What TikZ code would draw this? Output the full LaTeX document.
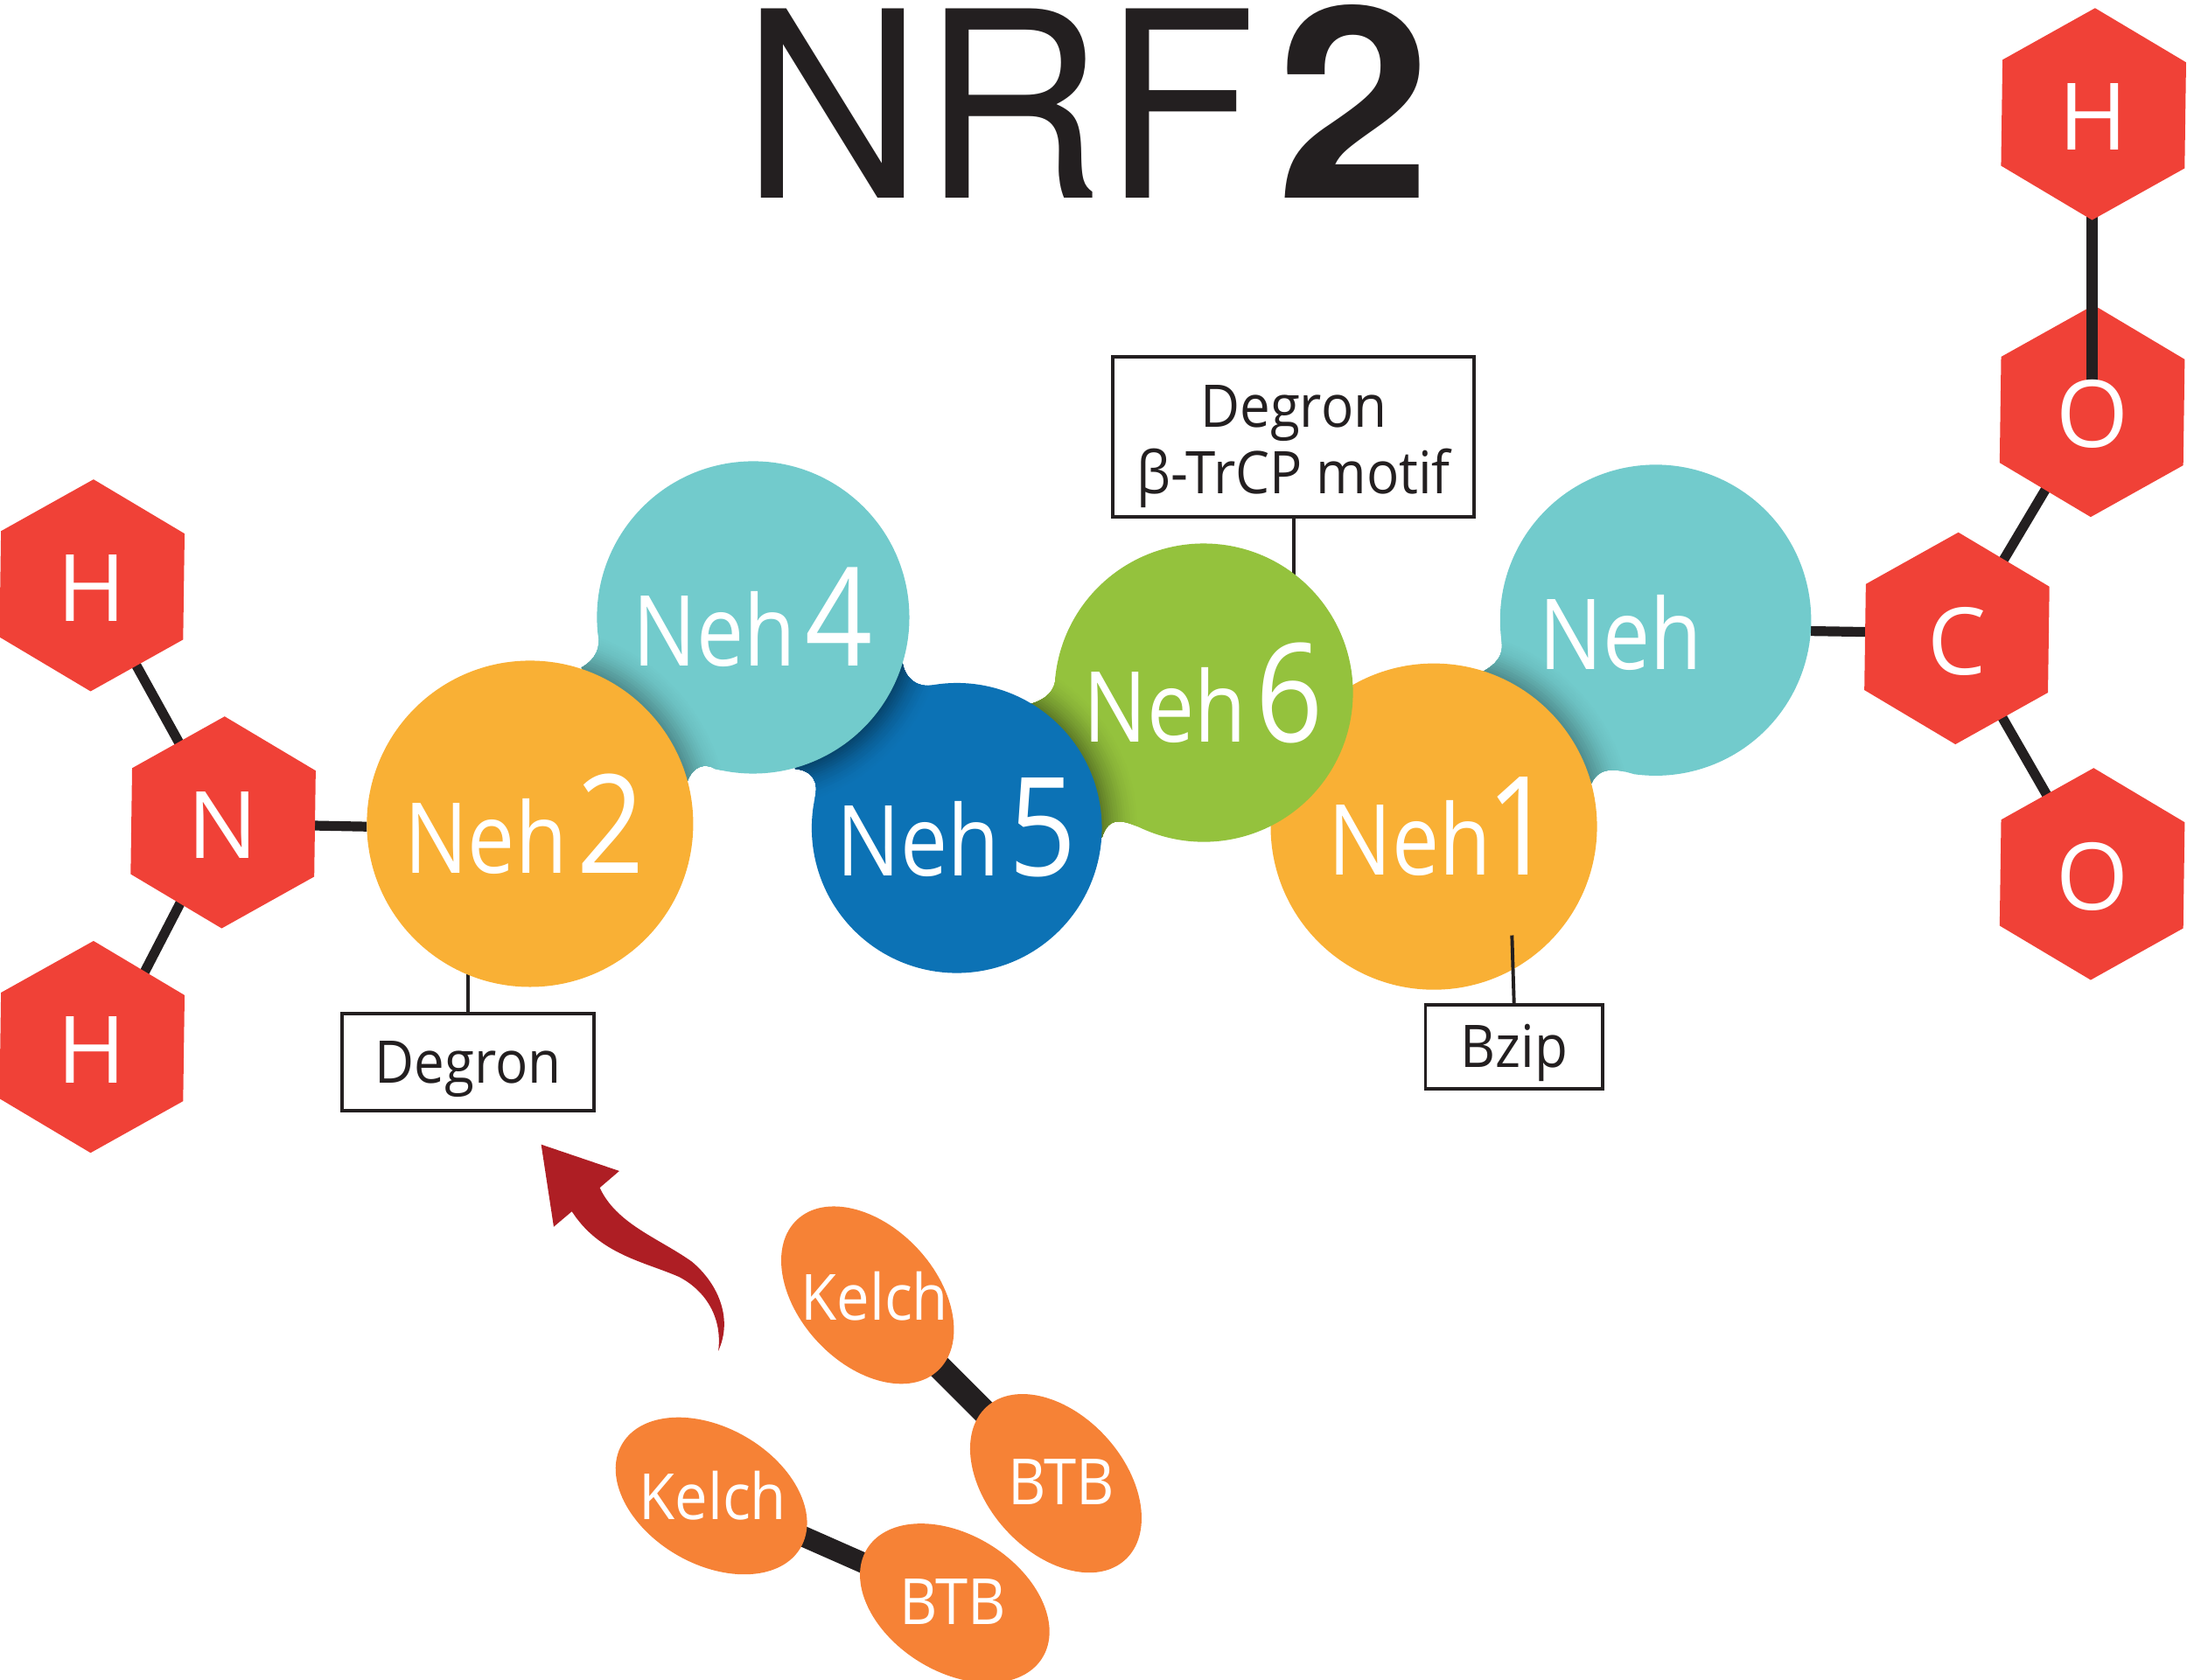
\documentclass[tikz,border=0pt]{standalone}
\usepackage{fontspec}
\usetikzlibrary{shapes.geometric, positioning, backgrounds}
\newfontfamily\nehfont[FakeStretch=0.86]{Open Sans}
\newfontfamily\notefont[FakeStretch=0.92]{Open Sans}
\newfontfamily\atomfont{Open Sans}
\newfontfamily\titlefont[FakeStretch=0.965]{TeX Gyre Heros}
\newfontfamily\titletwo[FakeStretch=1.04]{TeX Gyre Heros}
\definecolor{hexred}{RGB}{240,65,55}
\definecolor{nehteal}{RGB}{114,203,204}
\definecolor{nehorange}{RGB}{249,176,53}
\definecolor{nehblue}{RGB}{12,114,181}
\definecolor{nehgreen}{RGB}{148,194,61}
\definecolor{kelchorange}{RGB}{246,130,54}
\definecolor{arrowred}{RGB}{174,30,36}
\definecolor{inkdark}{RGB}{35,31,32}
\tikzset{
  hexa/.style={regular polygon, regular polygon sides=6, shape border rotate=29.2,
    minimum size=1.52cm, inner sep=0pt, outer sep=0pt, fill=hexred},
  atomtext/.style={text=white, inner sep=0pt, yshift=-0.02cm, font=\atomfont\fontsize{19}{19}\selectfont},
  nehnode/.style={circle, inner sep=0pt, outer sep=0pt, text=white,
    font=\nehfont\fontsize{20}{20}\selectfont},
  boxnote/.style={rectangle, draw=inkdark, fill=white, line width=0.7pt},
  boxtext/.style={align=center, inner sep=0pt, text=inkdark,
    font=\notefont\fontsize{12}{13.5}\selectfont},
  blob/.style={ellipse, fill=kelchorange, inner sep=0pt, outer sep=0pt,
    minimum width=1.48cm, minimum height=0.98cm},
  blobtext/.style={text=white, inner sep=0pt, font=\notefont\fontsize{13}{13}\selectfont},
  bond/.style={draw=inkdark, line width=2pt},
  leader/.style={draw=inkdark, line width=0.7pt},
}
\newcommand{\nehdigit}[1]{\kern2pt{\fontsize{28}{28}\selectfont #1}}
\newcommand{\rimshade}[5]{%
  \fill[#3] (0,0) rectangle (15.68,12.05);
  \foreach \i in {1,...,16}{
    \pgfmathtruncatemacro{\mixval}{100-(100-#5)*(\i/16)^1.6}
    \fill[#3!\mixval!black] #1 circle ({#2+#4*(1-\i/16)});
  }
}

\begin{document}
\begin{tikzpicture}
  \useasboundingbox (0,0) rectangle (15.68,12.048);

  \node[anchor=base, inner sep=0pt, text=inkdark, font=\titlefont\fontsize{53}{53}\selectfont]
    (title) at (7.79,10.63) {NRF\kern4pt{\titletwo\bfseries\fontsize{54.5}{54.5}\selectfont 2}};

  % Neh chain, back to front
  \begin{scope}
    \clip (10.766,7.445) arc[start angle=188, end angle=-98, radius=1.115]
      .. controls (11.60,6.53) and (11.47,6.56) .. (11.41,6.43)
      -- (10.90,6.60) -- (10.63,7.23)
      .. controls (10.74,7.29) and (10.78,7.36) .. cycle;
    \rimshade{(10.28,6.12)}{1.17}{nehteal}{0.27}{68}
  \end{scope}
  \node[nehnode, minimum size=2.23cm] (nehr) at (11.87,7.60) {};
  \node[nehnode] (nehrtext) at (11.62,7.51) {Neh};
  \node[nehnode, fill=nehorange, minimum size=2.34cm] (neh1) at (10.28,6.12)
    {\kern3pt Neh\kern-3pt\nehdigit{1}};

  \begin{scope}
    \clip (7.566,7.192) arc[start angle=174, end angle=-114, radius=1.07]
      .. controls (8.05,6.17) and (7.95,6.20) .. (7.90,6.04)
      -- (7.30,6.30) -- (7.39,7.00)
      .. controls (7.50,7.03) and (7.57,7.10) .. cycle;
    \rimshade{(6.86,6.11)}{1.04}{nehgreen}{0.27}{62}
  \end{scope}
  \node[nehnode, minimum size=2.14cm] (neh6) at (8.63,7.08) {Neh\nehdigit{6}};

  \begin{scope}
    \clip (6.697,7.137) arc[start angle=99, end angle=-192, radius=1.04]
      .. controls (5.87,6.44) and (5.83,6.52) .. (5.70,6.535)
      -- (5.90,7.00) -- (6.47,7.295)
      .. controls (6.49,7.18) and (6.58,7.11) .. cycle;
    \rimshade{(5.40,7.62)}{1.12}{nehblue}{0.27}{58}
  \end{scope}
  \node[nehnode, minimum size=2.08cm] (neh5) at (6.86,6.11) {Neh\nehdigit{5}};

  \begin{scope}
    \clip (4.286,7.503) arc[start angle=186, end angle=-104, radius=1.12]
      .. controls (5.05,6.58) and (4.97,6.55) .. (4.93,6.45)
      -- (4.30,6.60) -- (4.17,7.26)
      .. controls (4.27,7.32) and (4.31,7.40) .. cycle;
    \rimshade{(3.80,6.14)}{1.17}{nehteal}{0.27}{68}
  \end{scope}
  \node[nehnode, minimum size=2.24cm] (neh4) at (5.40,7.62) {Neh\nehdigit{4}};
  \node[nehnode, fill=nehorange, minimum size=2.34cm] (neh2) at (3.80,6.14)
    {Neh\nehdigit{2}\kern2.3pt};

  % atoms
  \node[hexa] (hup) at (0.66,7.85) {};
  \node[atomtext] (huptext) at (hup) {H};
  \node[hexa] (nitro) at (1.60,6.15) {};
  \node[atomtext] (nitrotext) at (nitro) {N};
  \node[hexa] (hlow) at (0.66,4.54) {};
  \node[atomtext] (hlowtext) at (hlow) {H};
  \node[hexa] (carbon) at (14.03,7.47) {};
  \node[atomtext] (carbontext) at (carbon) {C};
  \node[hexa] (obot) at (15.00,5.78) {};
  \node[atomtext] (obottext) at (obot) {O};
  \node[hexa] (otop) at (15.00,9.10) {};
  \coordinate (obond) at (15.00,9.29);
  \draw[bond, line width=2.2pt] (15.00,11.23) -- (obond);
  \node[hexa] (htop) at (15.01,11.23) {};
  \node[atomtext] (htoptext) at (htop) {H};
  \node[atomtext] (otoptext) at (otop) {O};

  % note boxes
  \node[boxnote, minimum width=1.81cm, minimum height=0.70cm] (degronbox) at (3.355,4.43) {};
  \node[boxtext, yshift=-0.05cm] (degrontext) at (degronbox) {Degron};
  \node[boxnote, minimum width=2.59cm, minimum height=1.15cm] (betabox) at (9.275,8.915) {};
  \node[boxtext, yshift=-0.07cm] (betatext) at (betabox) {Degron\\β-TrCP motif};
  \node[boxnote, minimum width=1.27cm, minimum height=0.60cm] (bzipbox) at (10.855,4.54) {};
  \node[boxtext, yshift=-0.04cm] (bziptext) at (bzipbox) {Bzip};
  \coordinate (bzipend) at (10.84,5.34);
  \draw[leader] (bzipbox.north) -- (bzipend);

  % Kelch and BTB pairs
  \node[blob, rotate=-47] (kelcha) at (6.22,2.76) {};
  \node[blob, rotate=-48] (btba) at (7.57,1.41) {};
  \node[blob, rotate=-30] (kelchb) at (5.10,1.32) {};
  \node[blob, rotate=-32] (btbb) at (6.845,0.55) {};
  \node[blobtext] (kelchatext) at (6.27,2.75) {Kelch};
  \node[blobtext] (btbatext) at (7.61,1.42) {BTB};
  \node[blobtext] (kelchbtext) at (5.11,1.32) {Kelch};
  \node[blobtext] (btbbtext) at (6.83,0.56) {BTB};

  \fill[arrowred] (3.88,3.84) -- (4.44,3.65) -- (4.30,3.53)
    .. controls (4.42,3.27) and (4.72,3.17) .. (4.96,3.00)
    .. controls (5.14,2.85) and (5.26,2.60) .. (5.15,2.36)
    .. controls (5.18,2.60) and (5.06,2.79) .. (4.87,2.89)
    .. controls (4.62,3.00) and (4.30,3.05) .. (4.10,3.36)
    -- (3.97,3.25) -- cycle;

  \begin{pgfonlayer}{background}
    \draw[bond] (hup.center) -- (nitro.center);
    \draw[bond, shorten <=-2pt, shorten >=-2pt] (nitro.-118) -- (hlow.55);
    \draw[bond] (nitro.-2.6) -- (neh2.181);
    \draw[bond] (nehr.-4.6) -- (carbon.176.5);
    \draw[bond] (carbon.center) -- (otop.center);
    \draw[bond] (carbon.center) -- (obot.center);
    \draw[bond, line width=5pt] (kelcha.center) -- (btba.center);
    \draw[bond, line width=4.2pt] (kelchb.center) -- (btbb.center);
    \draw[leader] (degronbox.north) -- (degronbox.north |- neh2.center);
    \draw[leader] (betabox.south) -- (betabox.south |- neh6.center);
  \end{pgfonlayer}
\end{tikzpicture}
\end{document}
